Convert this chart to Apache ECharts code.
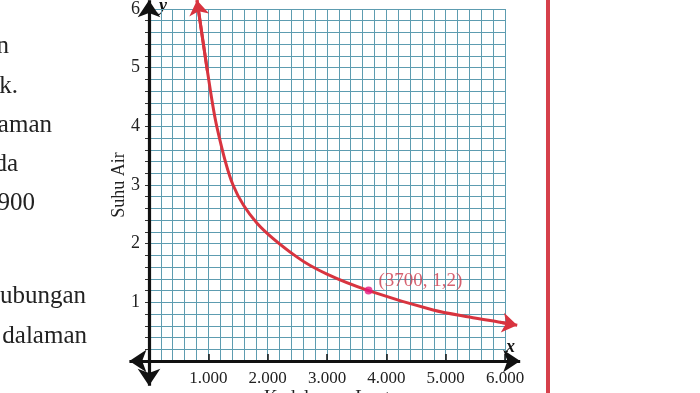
<!DOCTYPE html>
<html>
<head>
<meta charset="utf-8">
<script src="https://cdn.jsdelivr.net/npm/echarts@6/dist/echarts.min.js"></script>
<style>
html, body { margin: 0; padding: 0; background: #fff; }
#chart { width: 700px; height: 393px; }
</style>
</head>
<body>
<div id="chart"></div>
<script>
// kedalaman laut (m) vs suhu air
var depth = [809, 983, 1142, 1416, 1821, 2496, 3000, 3700, 4789, 5400, 5919, 6206];
var temp  = [6.15, 4.95, 4.0, 3.0, 2.35, 1.77, 1.48, 1.2, 0.87, 0.75, 0.66, 0.61];
var point = [3700, 1.2];
var pointLabel = '(3700, 1,2)';
var xTicks = [1000, 2000, 3000, 4000, 5000, 6000];
var xTickLabels = ['1.000', '2.000', '3.000', '4.000', '5.000', '6.000'];
var yTickLabels = ['1', '2', '3', '4', '5', '6'];
// ujung sumbu (panah)
var xAxisEnds = [-330, 6256];
var yAxisEnds = [-0.42, 6.15];

var curve = depth.map(function (d, i) { return [d, temp[i]]; });
var n = curve.length;

var chart = echarts.init(document.getElementById('chart'));
var serif = 'Liberation Serif';
var gridColor = '#5d9cb0';
var textFont = '25px "Liberation Serif"';

var option = {
    backgroundColor: '#fff',
    animation: false,
    grid: { left: 149, right: 195, top: 9, bottom: 32, outerBoundsMode: 'none', containLabel: false },
    xAxis: {
        type: 'value',
        min: 0, max: 6000, interval: 1000,
        name: 'Kedalaman Laut',
        nameLocation: 'middle',
        nameGap: 28,
        nameMoveOverlap: false,
        nameTextStyle: { fontFamily: serif, fontSize: 19, color: '#222' },
        axisLine: { show: false },
        axisTick: { show: true, inside: true, length: 7, lineStyle: { color: '#111', width: 1.5 } },
        minorTick: { show: false, splitNumber: 5 },
        axisLabel: {
            margin: 9,
            fontFamily: serif, fontSize: 17, color: '#222',
            formatter: function (v) {
                var i = xTicks.indexOf(v);
                return i < 0 ? '' : xTickLabels[i];
            }
        },
        splitLine: { show: true, lineStyle: { color: gridColor, width: 1 } },
        minorSplitLine: { show: true, lineStyle: { color: gridColor, width: 1 } }
    },
    yAxis: {
        type: 'value',
        min: 0, max: 6, interval: 1,
        name: 'Suhu Air',
        nameLocation: 'middle',
        nameGap: 21,
        nameMoveOverlap: false,
        nameRotate: 90,
        nameTextStyle: { fontFamily: serif, fontSize: 18, color: '#222' },
        axisLine: { show: false },
        axisTick: { show: true, length: 4, lineStyle: { color: '#333' } },
        minorTick: { show: true, splitNumber: 5, length: 4, lineStyle: { color: '#333' } },
        axisLabel: {
            margin: 9,
            fontFamily: serif, fontSize: 18, color: '#222',
            formatter: function (v) { return v === 0 ? '' : yTickLabels[v - 1]; }
        },
        splitLine: { show: true, lineStyle: { color: gridColor, width: 1 } },
        minorSplitLine: { show: true, lineStyle: { color: gridColor, width: 1 } }
    },
    graphic: [
        { type: 'rect', shape: { x: 546, y: 0, width: 4, height: 393 }, style: { fill: '#d6404b' } },
        { type: 'text', x: 159, y: -3, style: { text: 'y', font: 'italic bold 18px "Liberation Serif"', fill: '#111' } },
        { type: 'text', x: 506, y: 338, style: { text: 'x', font: 'italic bold 18px "Liberation Serif"', fill: '#111' } },
        { type: 'text', x: 9, y: 34, style: { text: 'n', font: textFont, fill: '#222', align: 'right' } },
        { type: 'text', x: 18, y: 74, style: { text: 'k.', font: textFont, fill: '#222', align: 'right' } },
        { type: 'text', x: 52, y: 113, style: { text: 'aman', font: textFont, fill: '#222', align: 'right' } },
        { type: 'text', x: 18, y: 152, style: { text: 'da', font: textFont, fill: '#222', align: 'right' } },
        { type: 'text', x: 35, y: 191, style: { text: '900', font: textFont, fill: '#222', align: 'right' } },
        { type: 'text', x: 86, y: 284, style: { text: 'ubungan', font: textFont, fill: '#222', align: 'right' } },
        { type: 'text', x: 87, y: 324, style: { text: 'dalaman', font: textFont, fill: '#222', align: 'right' } }
    ],
    series: [
        {
            type: 'line',
            data: curve,
            smooth: 0.3,
            showSymbol: false,
            clip: false,
            lineStyle: { color: '#d8343f', width: 3 }
        },
        {
            // panah di ujung kurva
            type: 'lines',
            coordinateSystem: 'cartesian2d',
            clip: false,
            symbol: ['none', 'arrow'],
            symbolSize: 15,
            lineStyle: { color: '#d8343f', width: 3, opacity: 1 },
            data: [
                { coords: [curve[1], curve[0]] },
                { coords: [curve[n - 2], curve[n - 1]] }
            ]
        },
        {
            // sumbu x dan y
            type: 'lines',
            coordinateSystem: 'cartesian2d',
            clip: false,
            symbol: ['arrow', 'arrow'],
            symbolSize: 17,
            lineStyle: { color: '#111', width: 3.2, opacity: 1 },
            data: [
                { coords: [[xAxisEnds[0], 0], [xAxisEnds[1], 0]] },
                { coords: [[0, yAxisEnds[0]], [0, yAxisEnds[1]]] }
            ]
        },
        {
            type: 'scatter',
            data: [point],
            symbolSize: 8,
            itemStyle: { color: '#e3187f' },
            z: 5,
            label: {
                show: true,
                position: 'right',
                offset: [1, -10],
                formatter: pointLabel,
                fontFamily: serif, fontSize: 19, color: '#cc3a4c'
            }
        }
    ]
};

chart.setOption(option);
</script>
</body>
</html>
